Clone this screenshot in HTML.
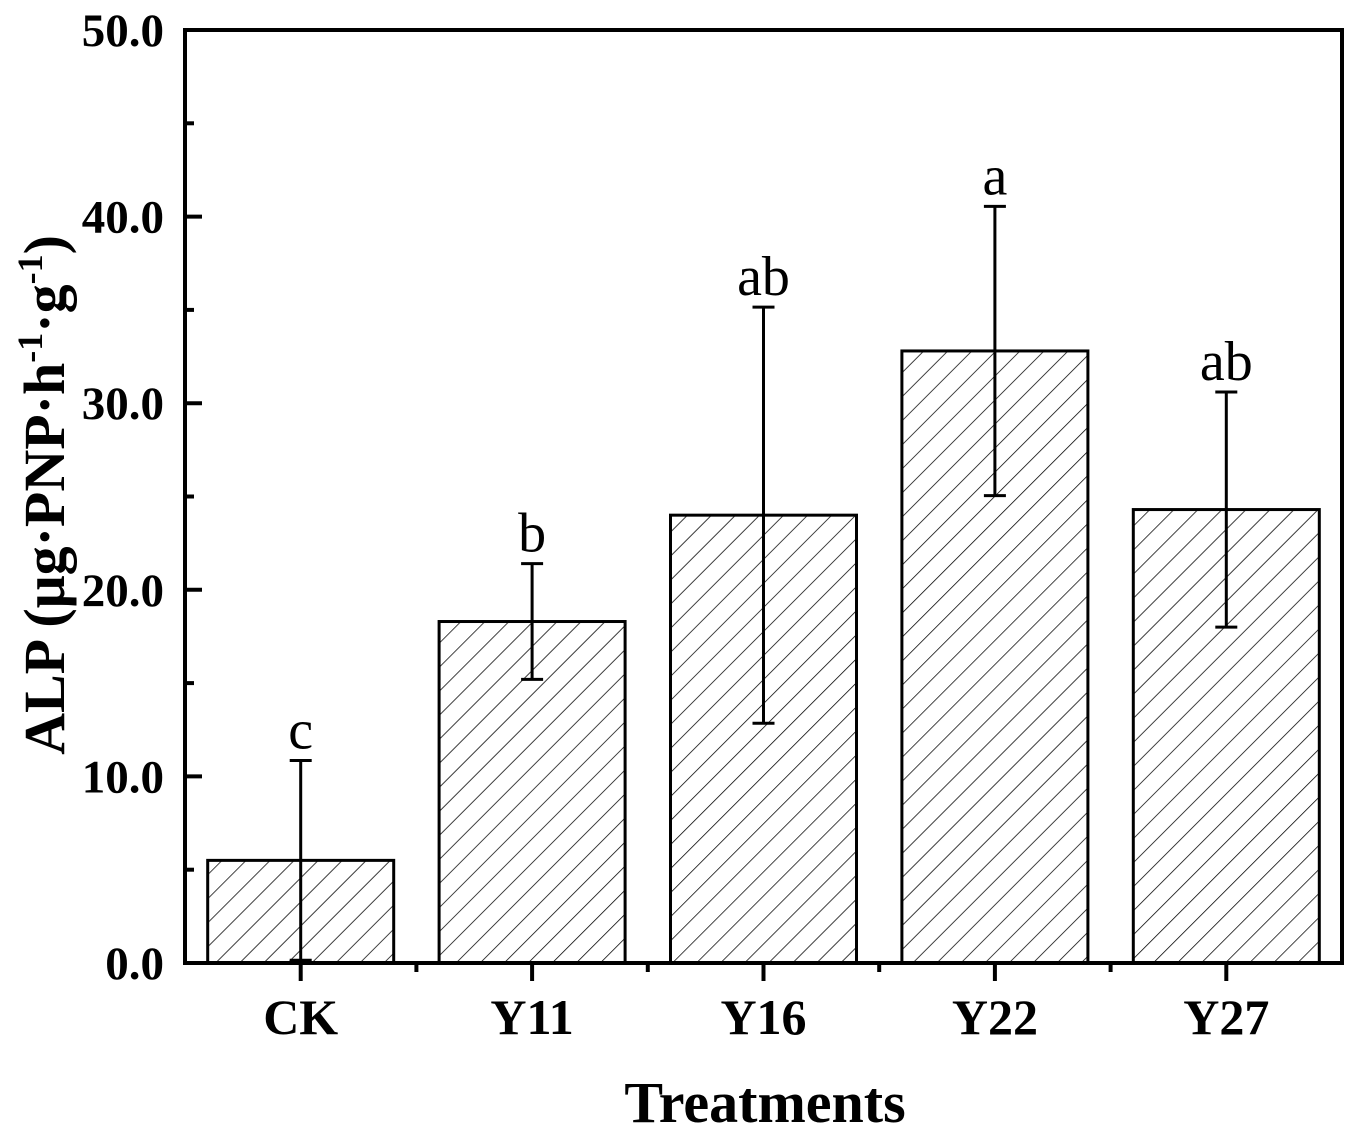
<!DOCTYPE html>
<html><head><meta charset="utf-8"><style>
html,body{margin:0;padding:0;background:#fff;}
svg{display:block;font-family:"Liberation Serif",serif;}
</style></head><body>
<svg width="1363" height="1143" viewBox="0 0 1363 1143">
<defs>
<pattern id="hatch" patternUnits="userSpaceOnUse" width="17" height="17" patternTransform="rotate(45)">
<line x1="0" y1="0" x2="0" y2="17" stroke="#000" stroke-width="1.5"/>
</pattern>
</defs>
<g id="bars"></g>
<g id="axes"></g>
<text x="765" y="1122" text-anchor="middle" font-size="58" font-weight="bold">Treatments</text>
<text transform="translate(64,495) rotate(-90)" text-anchor="middle" font-size="58" font-weight="bold">ALP (μg·PNP·h<tspan font-size="36" dy="-22">-1</tspan><tspan dy="22">·g</tspan><tspan font-size="36" dy="-22">-1</tspan><tspan dy="22">)</tspan></text>
</svg>
<script>
const categories = ["CK","Y11","Y16","Y22","Y27"];
const values = [5.5, 18.3, 24.0, 32.8, 24.3];
const errors = [5.35, 3.1, 11.15, 7.75, 6.3];
const letters = ["c","b","ab","a","ab"];
const yTicks = [0,10,20,30,40,50];
const yTickLabels = ["0.0","10.0","20.0","30.0","40.0","50.0"];

const L=185,R=1342,T=30,B=963,ymax=50;
const NS="http://www.w3.org/2000/svg";
const y=v=>B-(v/ymax)*(B-T);
const step=(R-L)/categories.length;
const xc=i=>L+step*(i+0.5);
const bw=186;
function mk(tag,attrs,parent){const e=document.createElementNS(NS,tag);for(const k in attrs)e.setAttribute(k,attrs[k]);parent.appendChild(e);return e;}
const bars=document.getElementById('bars'), axes=document.getElementById('axes');
categories.forEach((c,i)=>{
  const cx=xc(i);
  const r=mk('rect',{x:cx-bw/2,y:y(values[i]),width:bw,height:B-y(values[i]),fill:'url(#hatch)',stroke:'#000','stroke-width':3},bars);
  
  
  const top=y(values[i]+errors[i]), bot=y(Math.max(0,values[i]-errors[i]));
  let d=`M${cx},${bot}V${top}M${cx-11},${top}H${cx+11}`;
  if(values[i]-errors[i]>0) d+=`M${cx-11},${bot}H${cx+11}`;
  const e=mk('path',{d:d,stroke:'#000','stroke-width':3,fill:'none'},bars);
  
  
  const t=mk('text',{x:cx,y:top-12,'text-anchor':'middle','font-size':56},bars);
  t.textContent=letters[i];
  
  
  const xl=mk('text',{x:cx,y:1034,'text-anchor':'middle','font-size':50,'font-weight':'bold'},axes);
  xl.textContent=c;
  
  
  const tk=mk('line',{x1:cx,x2:cx,y1:B,y2:B+18,stroke:'#000','stroke-width':4},axes);
  
  
  if(i<categories.length-1){
    const mt=mk('line',{x1:cx+step/2,x2:cx+step/2,y1:B,y2:B+9,stroke:'#000','stroke-width':4},axes);
    
    
  }
});
yTicks.forEach((v,i)=>{
  const tk=mk('line',{x1:L,x2:L+17,y1:y(v),y2:y(v),stroke:'#000','stroke-width':4},axes);
  
  
  if(i<yTicks.length-1){
    const mv=(v+yTicks[i+1])/2;
    const mt=mk('line',{x1:L,x2:L+9,y1:y(mv),y2:y(mv),stroke:'#000','stroke-width':4},axes);
    
    
  }
  const tl=mk('text',{x:164,y:y(v)+16,'text-anchor':'end','font-size':47,'font-weight':'bold'},axes);
  tl.textContent=yTickLabels[i];
  
  
});
const fr=mk('rect',{x:L,y:T,width:R-L,height:B-T,fill:'none',stroke:'#000','stroke-width':4},axes);


</script>
</body></html>
